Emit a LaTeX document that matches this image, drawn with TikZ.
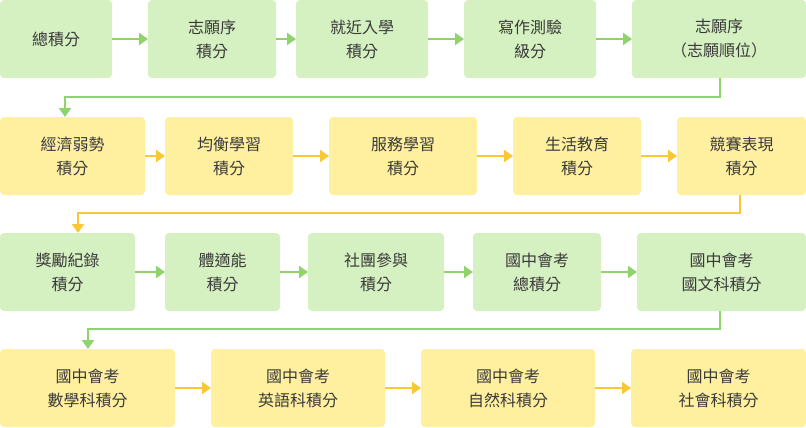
\documentclass[tikz,border=0pt]{standalone}
\usepackage{fontspec}
\setmainfont{Noto Sans CJK TC}
\usetikzlibrary{arrows.meta}
\definecolor{gf}{HTML}{D5F0C1}\definecolor{ga}{HTML}{8FD46A}
\definecolor{yf}{HTML}{FFF0A0}\definecolor{ya}{HTML}{F9C834}
\definecolor{tx}{HTML}{3A3A3A}
\begin{document}
\begin{tikzpicture}[x=1pt,y=-1pt,
 bx/.style={rounded corners=4pt,align=center,text=tx,font=\fontsize{16}{24}\selectfont},
 g/.style={bx,fill=gf}, yl/.style={bx,fill=yf},
 ag/.style={draw=ga,line width=2.2pt,-{Triangle[length=9pt,width=12pt]}},
 ay/.style={draw=ya,line width=2.2pt,-{Triangle[length=9pt,width=12pt]}}]
\useasboundingbox (0,0) rectangle (806,428);
\newcommand\bb[6]{\path[#1] (#2,#3) rectangle (#4,#3+78); \node[#1,fill=none] (#5) at ({(#2+#4)/2},#3+39) {#6};
 \coordinate (#5w) at (#2,#3+39); \coordinate (#5e) at (#4,#3+39);}
\bb{g}{0}{0}{112}{a1}{總積分}
\bb{g}{148}{0}{276}{a2}{志願序\\積分}
\bb{g}{296}{0}{428}{a3}{就近入學\\積分}
\bb{g}{464}{0}{596}{a4}{寫作測驗\\級分}
\bb{g}{632}{0}{806}{a5}{志願序\\（志願順位）}
\bb{yl}{0}{117}{145}{b1}{經濟弱勢\\積分}
\bb{yl}{165}{117}{293}{b2}{均衡學習\\積分}
\bb{yl}{329}{117}{477}{b3}{服務學習\\積分}
\bb{yl}{513}{117}{641}{b4}{生活教育\\積分}
\bb{yl}{677}{117}{806}{b5}{競賽表現\\積分}
\bb{g}{0}{233}{135}{c1}{獎勵紀錄\\積分}
\bb{g}{165}{233}{280}{c2}{體適能\\積分}
\bb{g}{308}{233}{444}{c3}{社團參與\\積分}
\bb{g}{473}{233}{601}{c4}{國中會考\\總積分}
\bb{g}{637}{233}{806}{c5}{國中會考\\國文科積分}
\bb{yl}{0}{349}{175}{d1}{國中會考\\數學科積分}
\bb{yl}{211}{349}{385}{d2}{國中會考\\英語科積分}
\bb{yl}{421}{349}{595}{d3}{國中會考\\自然科積分}
\bb{yl}{631}{349}{806}{d4}{國中會考\\社會科積分}
\foreach \p/\q in {a1/a2,a2/a3,a3/a4,a4/a5}{\draw[ag] (\p e) -- (\q w);}
\foreach \p/\q in {b1/b2,b2/b3,b3/b4,b4/b5,d1/d2,d2/d3,d3/d4}{\draw[ay] (\p e) -- (\q w);}
\foreach \p/\q in {c1/c2,c2/c3,c3/c4,c4/c5}{\draw[ag] (\p e) -- (\q w);}
\coordinate (t1) at (720,78); \coordinate (h1) at (65,117);
\draw[ag] (t1) |- (65,97) -- (h1);
\coordinate (t2) at (740,195); \coordinate (h2) at (78,233);
\draw[ay] (t2) |- (78,213) -- (h2);
\coordinate (t3) at (720,311); \coordinate (h3) at (88,349);
\draw[ag] (t3) |- (88,329) -- (h3);
\end{tikzpicture}
\end{document}
